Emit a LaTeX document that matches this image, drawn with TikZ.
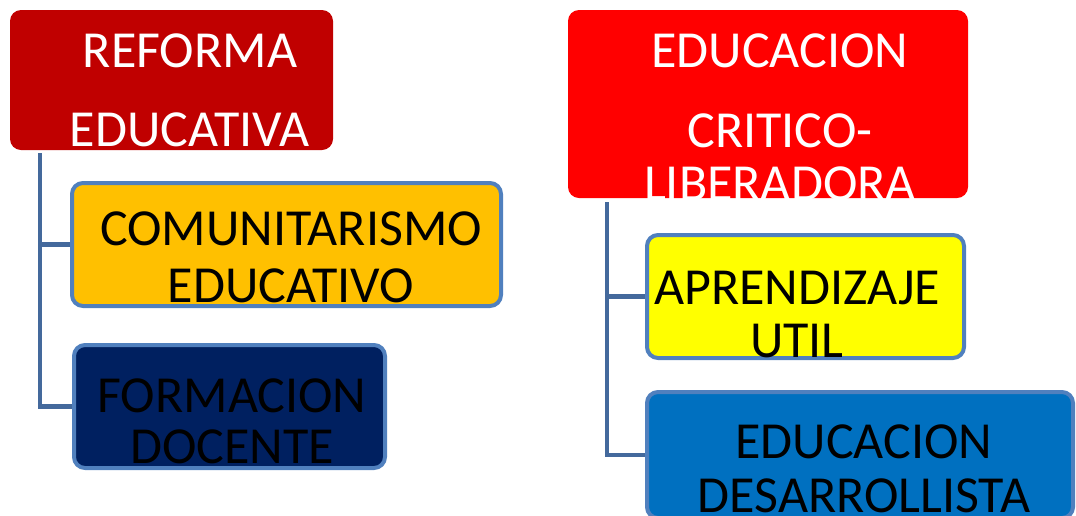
\documentclass[tikz,border=0pt]{standalone}
\usepackage{fontspec}
\setmainfont{Carlito}
\definecolor{rojooscuro}{HTML}{C00000}
\definecolor{rojo}{HTML}{FF0000}
\definecolor{ambar}{HTML}{FFC000}
\definecolor{marino}{HTML}{002060}
\definecolor{amarillo}{HTML}{FFFF00}
\definecolor{azul}{HTML}{0070C0}
\definecolor{borde}{HTML}{5080BE}
\definecolor{conector}{HTML}{44699C}
\begin{document}
\begin{tikzpicture}[x=1pt, y=-1pt, caja/.style={rounded corners=11pt, inner sep=0pt}, hija/.style={caja, draw=borde, line width=4pt, minimum height=123pt}, texto/.style={align=center, anchor=base, inner sep=0pt, font=\fontsize{52}{53}\selectfont}, linea/.style={draw=conector, line width=4.5pt}]
	\useasboundingbox (0,0) rectangle (1076,515);
	\node[caja, fill=rojooscuro, minimum width=323pt, minimum height=140pt] (reforma) at (171.5,80) {};
	\node[hija, fill=ambar, minimum width=429pt] (comunitarismo) at (286.5,244.5) {};
	\node[hija, fill=marino, minimum width=311pt] (formacion) at (229.5,406.5) {};
	\node[caja, fill=rojo, minimum width=400pt, minimum height=188pt] (critica) at (768,104) {};
	\node[hija, fill=amarillo, minimum width=317pt] (aprendizaje) at (805.5,296.5) {};
	\node[hija, fill=azul, minimum width=426pt, minimum height=126pt] (desarrollista) at (860,455) {};
	\node[texto, white] (reforma-t) at (190,146) {REFORMA\\[26pt]EDUCATIVA};
	\node[texto] (comunitarismo-t) at (291,302) {COMUNITARISMO\\[4pt]EDUCATIVO};
	\node[texto] (formacion-t) at (232,463) {FORMACION\\[-2pt]DOCENTE};
	\node[texto, white] (critica-t) at (780,200) {EDUCACION\\[27pt]CRITICO-\\LIBERADORA};
	\node[texto] (aprendizaje-t) at (797,357) {APRENDIZAJE\\UTIL};
	\node[texto] (desarrollista-t) at (864,512) {EDUCACION\\[1pt]DESARROLLISTA};
	\draw[linea] ([xshift=30pt,yshift=-3pt]reforma.south west) |- (comunitarismo.west);
	\draw[linea] ([xshift=30pt,yshift=-3pt]reforma.south west) |- (formacion.west);
	\draw[linea] ([xshift=39pt,yshift=-4pt]critica.south west) |- (aprendizaje.west);
	\draw[linea] ([xshift=39pt,yshift=-4pt]critica.south west) |- (desarrollista.west);
\end{tikzpicture}
\end{document}
